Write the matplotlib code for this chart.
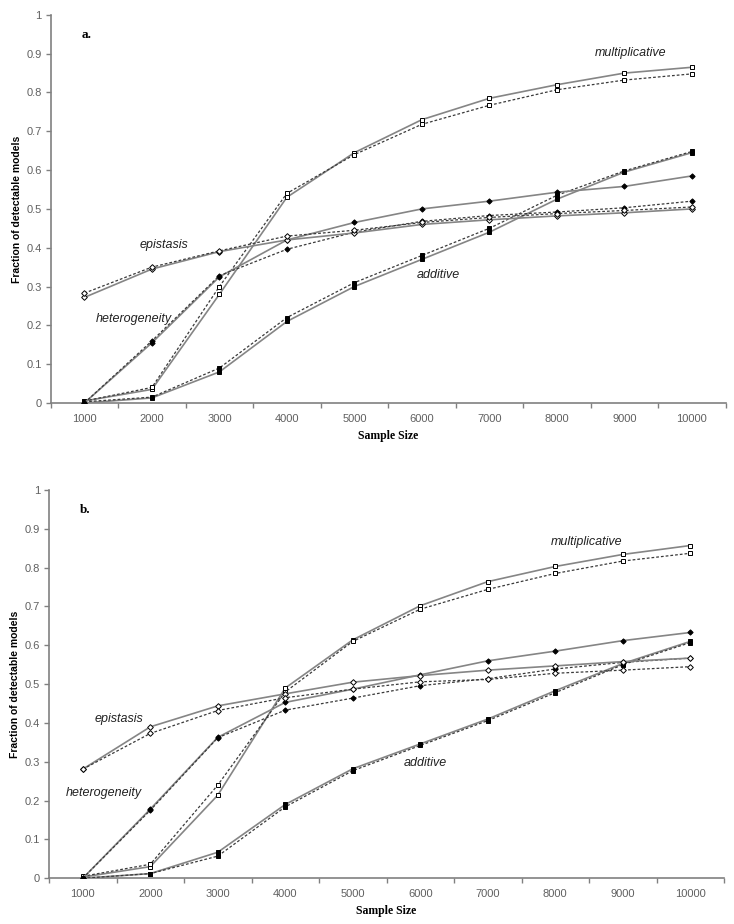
import numpy as np
import matplotlib
matplotlib.use('Agg')
import matplotlib.pyplot as plt

plt.rcParams['font.family'] = ['Liberation Sans', 'DejaVu Sans']

# ── Data ───────────────────────────────────────────────
SAMPLE_SIZES = ['1000', '2000', '3000', '4000', '5000',
                '6000', '7000', '8000', '9000', '10000']

# panel a
mult_a_solid = [0.005, 0.035, 0.28, 0.53, 0.645, 0.73, 0.785, 0.82, 0.85, 0.865]
mult_a_dash = [0.005, 0.04, 0.30, 0.54, 0.64, 0.718, 0.767, 0.807, 0.832, 0.848]
add_a_solid = [0.0, 0.013, 0.08, 0.21, 0.30, 0.37, 0.44, 0.525, 0.595, 0.645]
add_a_dash = [0.003, 0.015, 0.09, 0.22, 0.31, 0.38, 0.45, 0.535, 0.598, 0.648]
het_a_solid = [0.0, 0.155, 0.325, 0.42, 0.465, 0.5, 0.52, 0.543, 0.558, 0.585]
het_a_dash = [0.0, 0.16, 0.328, 0.396, 0.44, 0.468, 0.483, 0.492, 0.503, 0.52]
epi_a_solid = [0.272, 0.345, 0.39, 0.42, 0.438, 0.46, 0.472, 0.482, 0.49, 0.50]
epi_a_dash = [0.283, 0.35, 0.392, 0.43, 0.445, 0.465, 0.478, 0.488, 0.496, 0.505]

# panel b
mult_b_solid = [0.003, 0.03, 0.214, 0.49, 0.614, 0.702, 0.764, 0.803, 0.834, 0.857]
mult_b_dash = [0.005, 0.036, 0.24, 0.48, 0.61, 0.693, 0.744, 0.785, 0.817, 0.837]
add_b_solid = [0.0, 0.012, 0.067, 0.19, 0.282, 0.346, 0.41, 0.483, 0.553, 0.61]
add_b_dash = [0.0, 0.012, 0.057, 0.184, 0.277, 0.342, 0.406, 0.478, 0.55, 0.607]
het_b_solid = [0.0, 0.178, 0.363, 0.453, 0.487, 0.524, 0.56, 0.585, 0.612, 0.633]
het_b_dash = [0.0, 0.175, 0.362, 0.433, 0.464, 0.496, 0.514, 0.539, 0.556, 0.567]
epi_b_solid = [0.281, 0.39, 0.444, 0.475, 0.505, 0.522, 0.536, 0.547, 0.558, 0.567]
epi_b_dash = [0.281, 0.373, 0.432, 0.465, 0.487, 0.506, 0.512, 0.528, 0.536, 0.545]

PANEL_A = {
    'mult': (mult_a_solid, mult_a_dash),
    'add': (add_a_solid, add_a_dash),
    'het': (het_a_solid, het_a_dash),
    'epi': (epi_a_solid, epi_a_dash),
}
PANEL_B = {
    'mult': (mult_b_solid, mult_b_dash),
    'add': (add_b_solid, add_b_dash),
    'het': (het_b_solid, het_b_dash),
    'epi': (epi_b_solid, epi_b_dash),
}

# marker style per model: (marker, facecolor, size)
MARKERS = {
    'mult': ('s', 'white', 3.4),
    'add': ('s', 'black', 3.4),
    'het': ('D', 'black', 2.7),
    'epi': ('D', 'white', 2.9),
}

AXIS_GRAY = '#808080'
TICK_GRAY = '#606060'


def draw_panel(ax, series, letter, labels):
    x = np.arange(1, len(SAMPLE_SIZES) + 1)

    for key, (solid, dash) in series.items():
        mk, fc, ms = MARKERS[key]
        ax.plot(x, solid, color='#858585', lw=1.2, ls='-',
                marker=mk, ms=ms, mfc=fc, mec='black', mew=0.7, zorder=3)
        ax.plot(x, dash, color='#3a3a3a', lw=0.9, ls=(0, (2.2, 1.6)),
                marker=mk, ms=ms, mfc=fc, mec='black', mew=0.7, zorder=3)

    ax.set_xlim(0.5, len(SAMPLE_SIZES) + 0.5)
    ax.set_ylim(0, 1)

    ax.set_xticks(x)
    ax.set_xticklabels(SAMPLE_SIZES)
    ax.set_xticks(np.arange(0.5, len(SAMPLE_SIZES) + 1), minor=True)
    ax.tick_params(axis='x', which='major', length=0, pad=8,
                   labelsize=8, labelcolor=TICK_GRAY)
    ax.tick_params(axis='x', which='minor', length=3.5, width=1,
                   color=AXIS_GRAY, direction='out')

    ax.set_yticks(np.arange(0, 1.01, 0.1))
    ax.set_yticklabels(['0'] + [f'{v:.1f}' for v in np.arange(0.1, 0.95, 0.1)] + ['1'])
    ax.tick_params(axis='y', length=3.5, width=1, color=AXIS_GRAY,
                   labelsize=8, labelcolor=TICK_GRAY, pad=3)

    for s in ['top', 'right']:
        ax.spines[s].set_visible(False)
    for s in ['left', 'bottom']:
        ax.spines[s].set_color(AXIS_GRAY)
        ax.spines[s].set_linewidth(1.2)

    ax.set_xlabel('Sample Size', family='Liberation Serif', fontweight='bold',
                  fontsize=8.5, labelpad=4)
    ax.set_ylabel('Fraction of detectable models', fontweight='bold',
                  fontsize=7.5, labelpad=3)

    ax.text(0.046, 0.948, letter, transform=ax.transAxes,
            family='Liberation Serif', fontweight='bold', fontsize=9.5,
            ha='left', va='center')

    for text, (tx, ty) in labels.items():
        ax.text(tx, ty, text, style='italic', fontsize=9, color='#222222',
                ha='center', va='center')


fig = plt.figure(figsize=(7.34, 9.24), dpi=100)
ax_a = fig.add_axes([0.069, 0.5639, 0.9196, 0.42])
ax_b = fig.add_axes([0.0668, 0.0495, 0.9196, 0.4202])

draw_panel(ax_a, PANEL_A, 'a.', {
    'multiplicative': (9.09, 0.902),
    'epistasis': (2.18, 0.407),
    'heterogeneity': (1.73, 0.216),
    'additive': (6.25, 0.33),
})
draw_panel(ax_b, PANEL_B, 'b.', {
    'multiplicative': (8.46, 0.867),
    'epistasis': (1.54, 0.41),
    'heterogeneity': (1.31, 0.22),
    'additive': (6.08, 0.298),
})

fig.savefig('out.png', dpi=100)
